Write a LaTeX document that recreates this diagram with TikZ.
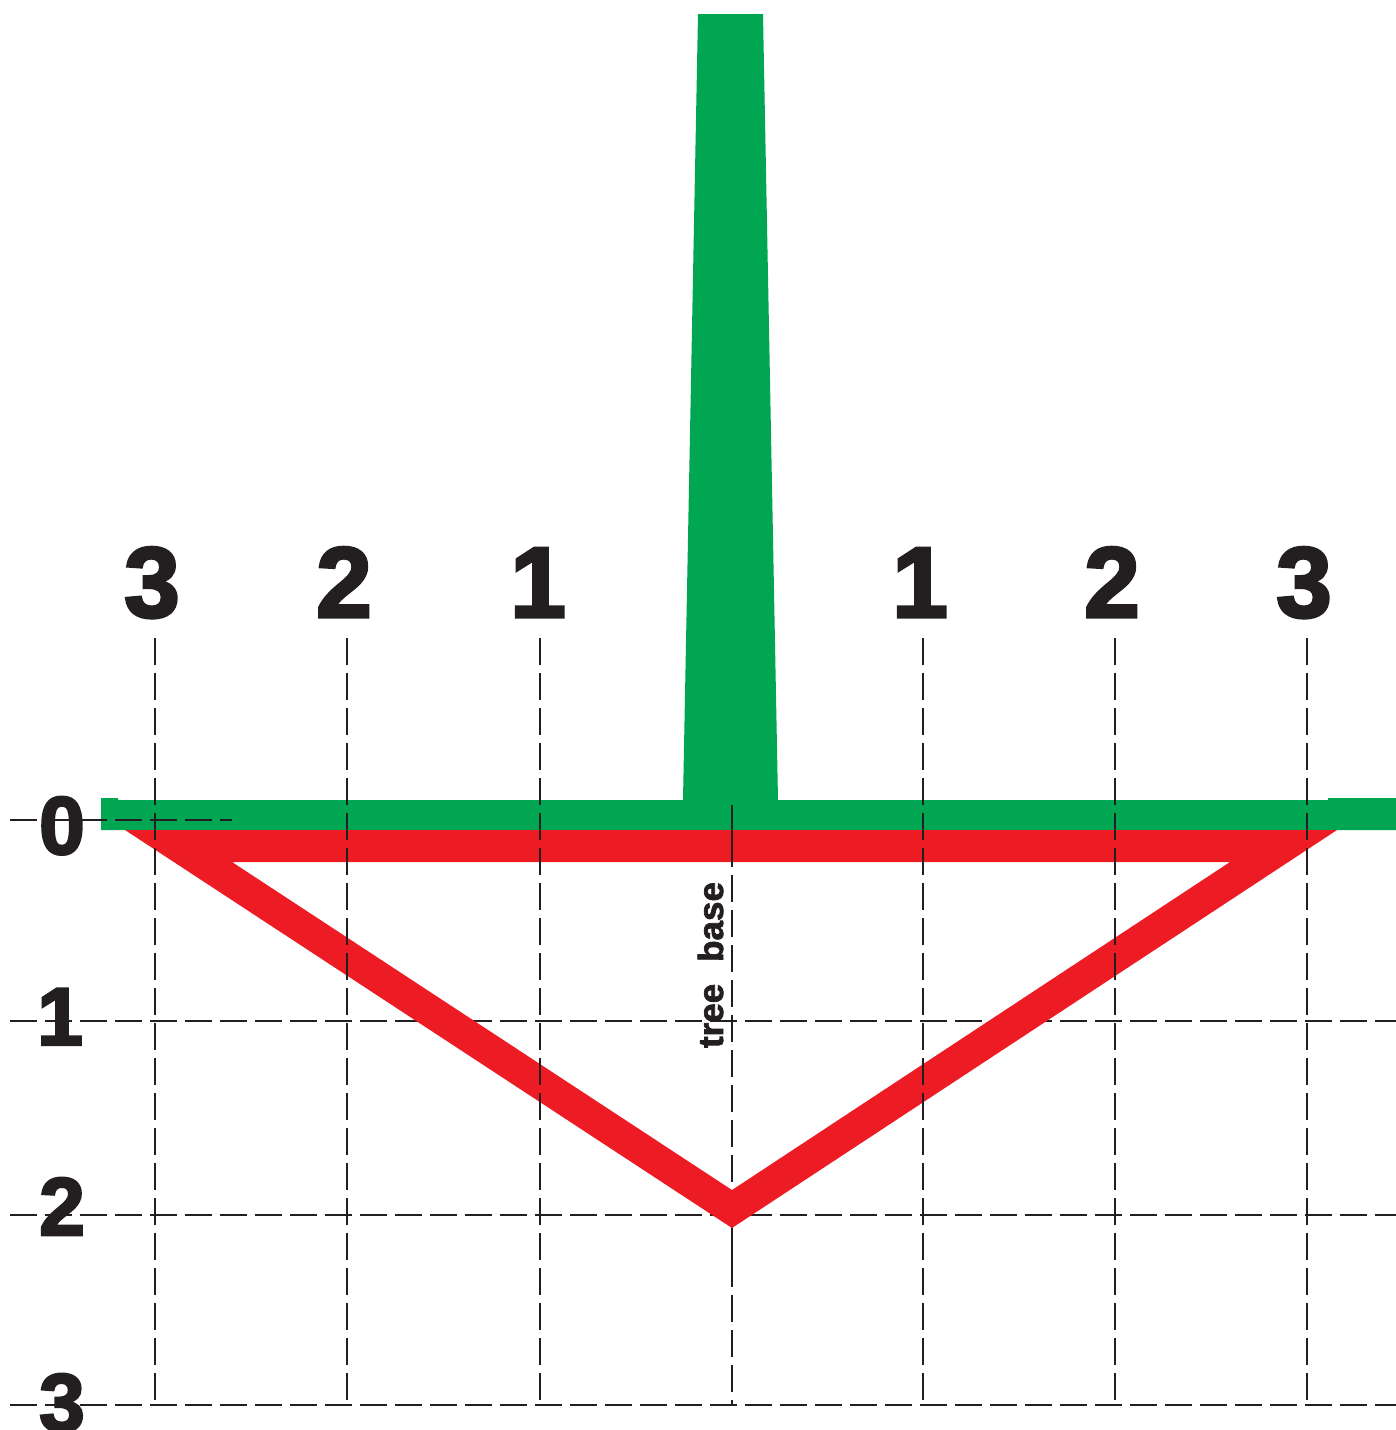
\documentclass[tikz,border=0pt]{standalone}
\usepackage{fontspec}
\newfontfamily\heavy[BoldFeatures={FakeBold=3}]{Liberation Sans}
\newfontfamily\smallheavy[BoldFeatures={FakeBold=2}]{Liberation Sans}
\definecolor{treegreen}{RGB}{0,166,81}
\definecolor{rootred}{RGB}{237,28,36}
\definecolor{ink}{RGB}{35,31,32}
\tikzset{
  gridline/.style={draw=ink, line width=2pt, dash pattern=on 27pt off 8pt},
  toplabel/.style={text=ink, inner sep=0pt, anchor=base, font=\heavy\bfseries\fontsize{100}{100}\selectfont},
  sidelabel/.style={text=ink, inner sep=0pt, anchor=base, font=\heavy\bfseries\fontsize{82}{82}\selectfont},
  baselabel/.style={text=ink, inner sep=0pt, anchor=base, rotate=90, font=\smallheavy\bfseries\fontsize{35}{35}\selectfont}
}
\begin{document}
\begin{tikzpicture}[x=1pt,y=-1pt]
\useasboundingbox (0,0) rectangle (1396,1430);
% horizontal grid lines (under the roots)
\coordinate (h1a) at (10,1021); \coordinate (h1b) at (1396,1021);
\coordinate (h2a) at (10,1215); \coordinate (h2b) at (1396,1215);
\coordinate (h3a) at (10,1405); \coordinate (h3b) at (1396,1405);
\draw[gridline] (h1a) -- (h1b);
\draw[gridline] (h2a) -- (h2b);
\draw[gridline] (h3a) -- (h3b);
% centre (tree base) line, under the roots
\coordinate (ca) at (732,805); \coordinate (cb) at (732,1405);
\draw[gridline, dash pattern=on 62pt off 8pt on 27pt off 8pt on 27pt off 8pt on 27pt off 8pt on 27pt off 8pt on 27pt off 8pt on 27pt off 8pt on 27pt off 8pt on 27pt off 8pt on 27pt off 8pt on 27pt off 8pt] (ca) -- (cb);
% tree trunk and ground
\fill[treegreen] (698,14) -- (763,14) -- (778,800) -- (1328,800) -- (1328,798) -- (1396,798)
  -- (1396,830) -- (101,830) -- (101,798) -- (118,798) -- (118,800) -- (683,800) -- cycle;
% root zone
\fill[rootred, even odd rule] (125,830) -- (1337,830) -- (732,1228) -- cycle
  (232,862) -- (1230,862) -- (732,1190) -- cycle;
% top part of centre line over ground and roots
\coordinate (cc) at (732,866);
\draw[draw=ink, line width=2pt] (ca) -- (cc);
% vertical grid lines
\foreach \n/\x in {a/155,b/347,c/540,d/923,e/1115,f/1307}{
  \coordinate (v\n t) at (\x,638);
  \coordinate (v\n b) at (\x,1405);
  \draw[gridline] (v\n t) -- (v\n b);
}
% short zero line
\coordinate (z1) at (10,820); \coordinate (z2) at (232,820);
\draw[gridline] (z1) -- (z2);
% top labels
\node[toplabel] (t1) at (152,617) {3};
\node[toplabel] (t2) at (344,617) {2};
\node[toplabel] (t3) at (538,617) {1};
\node[toplabel] (t4) at (920,617) {1};
\node[toplabel] (t5) at (1112,617) {2};
\node[toplabel] (t6) at (1304,617) {3};
% side labels
\node[sidelabel] (s0) at (62,854) {0};
\node[sidelabel] (s1) at (60,1045) {1};
\node[sidelabel] (s2) at (62,1235) {2};
\node[sidelabel] (s3) at (62,1431) {3};
% tree base label
\node[baselabel] (tb) at (723,965) {tree\hspace{22pt}base};
\end{tikzpicture}
\end{document}
